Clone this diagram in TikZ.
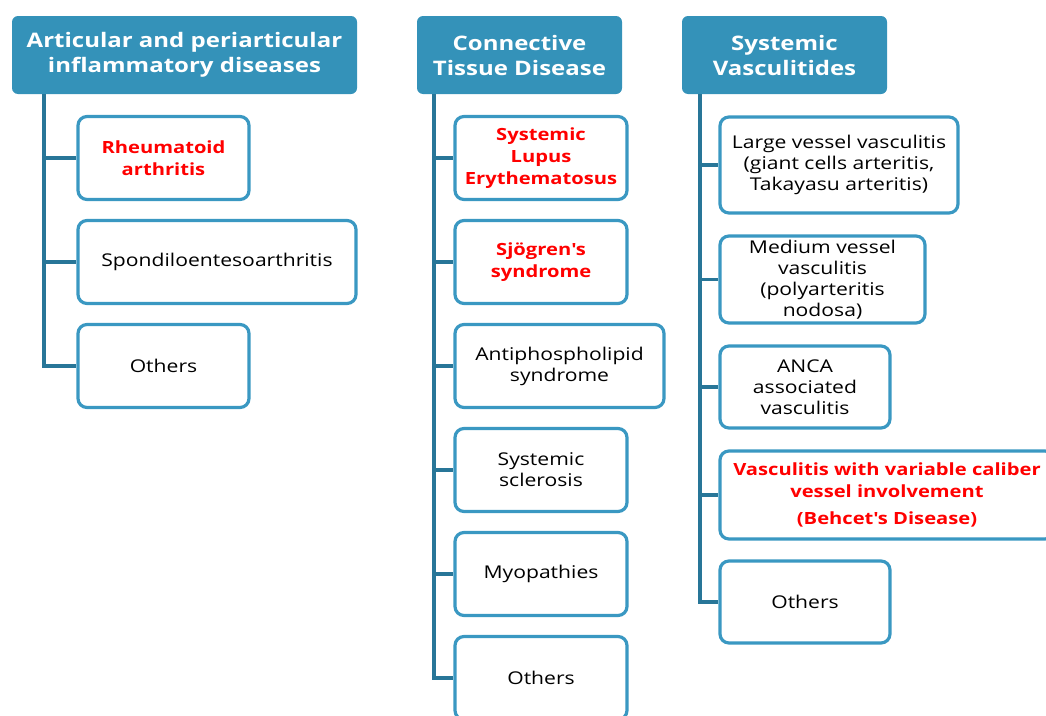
\documentclass[tikz,border=0pt]{standalone}
\usepackage{fontspec}
\setmainfont{Open Sans}[FakeStretch=1.2]
\usepackage{tikz}
\usetikzlibrary{arrows.meta}

\definecolor{headblue}{RGB}{52,146,185}
\definecolor{boxblue}{RGB}{58,152,194}
\definecolor{trunkblue}{RGB}{40,118,152}
\definecolor{hotred}{RGB}{255,0,0}

\begin{document}
\begin{tikzpicture}[x=1pt,y=-1pt,
    head/.style={rectangle,rounded corners=6pt,fill=headblue,text=white,align=center,
        font=\fontsize{20}{25}\selectfont\bfseries,minimum height=78pt},
    item/.style={rectangle,rounded corners=9pt,draw=boxblue,line width=3.2pt,fill=white,
        align=center,font=\fontsize{17.6}{21}\selectfont,minimum height=83pt},
    hot/.style={text=hotred,font=\fontsize{16.8}{22}\selectfont\bfseries},
    trunk/.style={draw=trunkblue,line width=3.6pt}]
\useasboundingbox (0,0) rectangle (1046,715);

% headers
\node[head,minimum width=345pt] (H1) at (184.5,55) {Articular and periarticular\\inflammatory diseases};
\node[head,minimum width=205pt] (H2) at (519.5,55) {Connective\\Tissue Disease};
\node[head,minimum width=205pt] (H3) at (784.5,55) {Systemic\\Vasculitides};

\coordinate (t1) at (44,94);
\coordinate (t2) at (434,94);
\coordinate (t3) at (700,94);

% articular
\node[item,hot,minimum width=171pt] (A1) at (163.5,158) {Rheumatoid\\arthritis};
\node[item,minimum width=278pt] (A2) at (217,262) {Spondiloentesoarthritis};
\node[item,minimum width=171pt] (A3) at (163.5,366) {Others};

% connective tissue
\node[item,hot,minimum width=172pt] (B1) at (541,158) {Systemic\\Lupus\\Erythematosus};
\node[item,hot,minimum width=172pt] (B2) at (541,262) {Sjögren\textquotesingle s\\syndrome};
\node[item,minimum width=209pt] (B3) at (559.5,366) {Antiphospholipid\\syndrome};
\node[item,minimum width=172pt] (B4) at (541,470) {Systemic\\sclerosis};
\node[item,minimum width=172pt] (B5) at (541,574) {Myopathies};
\node[item,minimum width=172pt] (B6) at (541,678) {Others};

% vasculitides
\node[item,minimum width=238pt,minimum height=96pt] (C1) at (839,165) {Large vessel vasculitis\\(giant cells arteritis,\\Takayasu arteritis)};
\node[item,minimum width=205pt,minimum height=87pt] (C2) at (822.5,279.5) {Medium vessel\\vasculitis\\(polyarteritis\\nodosa)};
\node[item,minimum width=170pt,minimum height=82pt] (C3) at (805,387) {ANCA\\associated\\vasculitis};
\node[item,hot,minimum width=334pt,minimum height=88pt] (C4) at (887,495) {Vasculitis with variable caliber\\vessel involvement\\[5pt](Behcet\textquotesingle s Disease)};
\node[item,minimum width=170pt,minimum height=82pt] (C5) at (805,602) {Others};

% connectors
\draw[trunk] (t1) |- (A3.west);
\draw[trunk] (t2) |- (B6.west);
\draw[trunk] (t3) |- (C5.west);
\foreach \n in {A1,A2} \draw[trunk] (\n.west -| t1) -- (\n.west);
\foreach \n in {B1,B2,B3,B4,B5} \draw[trunk] (\n.west -| t2) -- (\n.west);
\foreach \n in {C1,C2,C3,C4} \draw[trunk] (\n.west -| t3) -- (\n.west);
\end{tikzpicture}
\end{document}
